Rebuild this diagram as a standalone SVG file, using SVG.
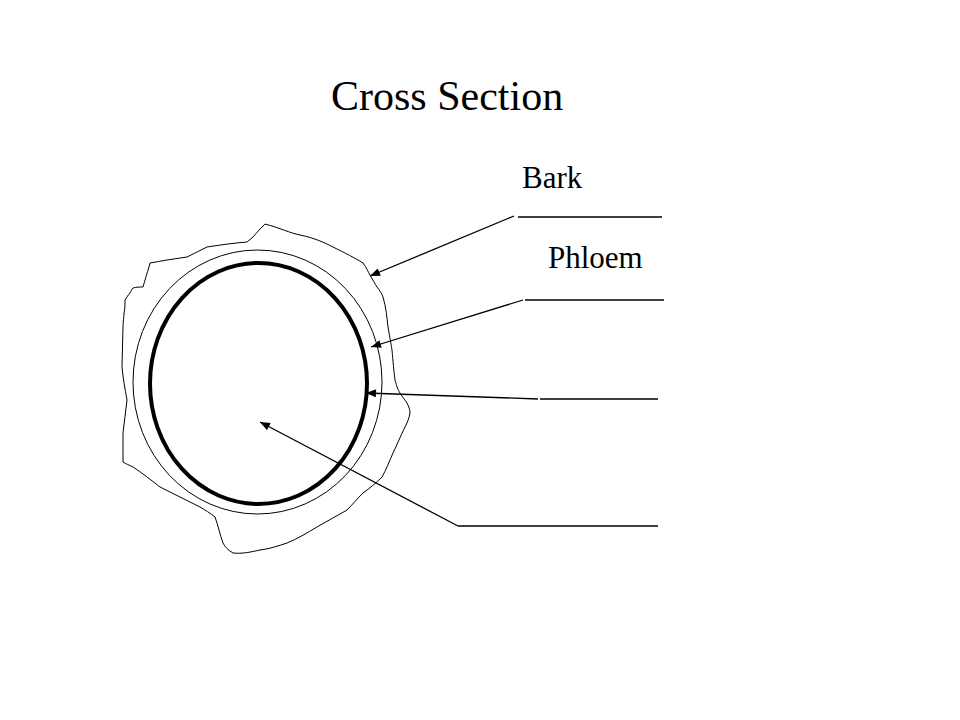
<svg xmlns="http://www.w3.org/2000/svg" width="960" height="720" viewBox="0 0 960 720">
<style>
.t{font-family:"Liberation Serif","Times New Roman",serif;fill:#000}
.ln{stroke:#000;stroke-width:1.3;fill:none}
</style>
<defs>
<marker id="ah" viewBox="0 0 10 8" refX="10" refY="4" markerWidth="11" markerHeight="8" markerUnits="userSpaceOnUse" orient="auto">
<path d="M0,0 L10,4 L0,8 Z" fill="#000"/>
</marker>
</defs>
<rect width="960" height="720" fill="#fff"/>
<text class="t" x="331" y="110" font-size="42">Cross Section</text>
<g id="stem">
<path id="bark" fill="none" stroke="#000" stroke-width="1" d="M265,224 C280,228 290,233 300,235 C315,238 325,243 333,247 C345,253 355,258 363,263 C367,268 368,272 370,275 C373,280 375,284 377,287 C380,291 382,294 383,297 C386,307 387,318 388,327 C390,338 391,344 392,350 C393,362 394,372 395,380 C397,387 398,390 400,393 C403,398 405,400 407,403 C409,407 410,410 410,413 C409,419 407,423 405,427 C400,437 397,445 393,453 C389,462 386,470 382,477 C376,483 370,488 363,493 C357,499 352,505 347,510 C337,516 327,521 317,527 C307,533 297,539 287,543 C278,546 269,549 260,550 C251,552 242,554 233,553 C228,550 225,547 223,543 C220,535 218,525 215,517 C210,513 205,510 200,507 C187,500 173,494 160,487 C151,480 142,473 133,467 C129,465 126,464 123,462 C123,452 123,443 123,433 C124,422 126,411 127,400 C125,389 123,378 122,367 C122,354 123,340 123,327 C123,322 124,317 124,313 C125,309 125,304 125,300 C127,297 128,295 130,293 C131,291 132,289 133,288 C136,287 140,287 143,287 C145,280 147,273 149,267 L150,263 C156,262 161,261 167,260 C174,259 180,258 187,257 C194,254 200,250 207,247 C220,245 234,243 247,242 C249,240 251,239 253,237 C257,232 261,228 265,224 Z"/>
<ellipse id="phloem" cx="257.5" cy="382" rx="124.5" ry="132" fill="none" stroke="#000" stroke-width="1"/>
<ellipse id="cambium" cx="258.5" cy="383.5" rx="108.5" ry="120.5" fill="none" stroke="#000" stroke-width="4"/>
</g>
<g id="labels">
<text class="t" x="522" y="188" font-size="31">Bark</text>
<text class="t" x="548" y="268" font-size="31">Phloem</text>
</g>
<g id="connectors">
<line class="ln" x1="514" y1="216" x2="370" y2="276" marker-end="url(#ah)"/>
<line class="ln" x1="518" y1="217" x2="662" y2="217"/>
<line class="ln" x1="523" y1="300" x2="371" y2="347" marker-end="url(#ah)"/>
<line class="ln" x1="525" y1="300" x2="664" y2="300"/>
<line class="ln" x1="538" y1="399" x2="366" y2="393" marker-end="url(#ah)"/>
<line class="ln" x1="540" y1="399" x2="658" y2="399"/>
<line class="ln" x1="458" y1="526" x2="260" y2="422" marker-end="url(#ah)"/>
<line class="ln" x1="458" y1="526" x2="658" y2="526"/>
</g>
</svg>
